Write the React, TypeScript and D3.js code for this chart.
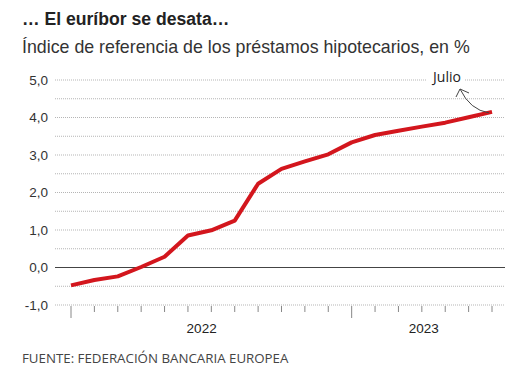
import * as d3 from 'd3';

const months = [
  '2022-01', '2022-02', '2022-03', '2022-04', '2022-05', '2022-06',
  '2022-07', '2022-08', '2022-09', '2022-10', '2022-11', '2022-12',
  '2023-01', '2023-02', '2023-03', '2023-04', '2023-05', '2023-06', '2023-07',
];
const euribor = [
  -0.477, -0.335, -0.237, 0.013, 0.287, 0.852,
  0.992, 1.249, 2.233, 2.629, 2.828, 3.018,
  3.337, 3.534, 3.647, 3.757, 3.862, 4.007, 4.149,
];
const yTicks = [-1, 0, 1, 2, 3, 4, 5];
const years = ['2022', '2023'];

const W = 520;
const H = 387;
const RED = '#d3161d';

export default function App() {
  const x = d3.scalePoint<string>().domain(months).range([71, 492]);
  const y = d3.scaleLinear().domain([-1, 5]).range([305, 80]);
  const gridLeft = 55;
  const gridRight = 505;

  const gridVals = d3.range(-1, 5.01, 0.5);
  const fmt = (v: number) => d3.format('.1f')(v).replace('.', ',').replace('−', '-');

  const line = d3
    .line<number>()
    .x((_, i) => x(months[i]) as number)
    .y(d => y(d));

  const last = months.length - 1;
  const endX = x(months[last]) as number;
  const endY = y(euribor[last]);
  const tipX = endX - 32;
  const tipY = 89;

  return (
    <svg
      width={W}
      height={H}
      style={{ position: 'absolute', left: 0, top: 0, background: '#fff' }}
      fontFamily="'Liberation Sans', Arial, sans-serif"
    >
      <text x={22} y={25} fontSize={17.6} fontWeight={700} fill="#222">
        … El euríbor se desata…
      </text>
      <text x={22} y={53} fontSize={17.8} fill="#333">
        Índice de referencia de los préstamos hipotecarios, en %
      </text>

      {/* gridlines */}
      {gridVals.map(v =>
        Math.abs(v) < 1e-9 ? null : (
          <line
            key={v}
            x1={gridLeft}
            x2={gridRight}
            y1={y(v)}
            y2={y(v)}
            stroke="#b5b5b5"
            strokeWidth={1}
            strokeDasharray="1,1"
          />
        )
      )}
      <line x1={gridLeft} x2={gridRight} y1={y(0)} y2={y(0)} stroke="#444" strokeWidth={1} />

      {/* y labels */}
      {yTicks.map(v => (
        <text
          key={v}
          x={48}
          y={y(v)}
          dy="0.35em"
          textAnchor="end"
          fontSize={13.5}
          fill="#333"
        >
          {fmt(v)}
        </text>
      ))}

      {/* month ticks */}
      {months.map(m => (
        <line
          key={m}
          x1={x(m)}
          x2={x(m)}
          y1={306}
          y2={m.endsWith('-01') ? 318 : 312}
          stroke="#888"
          strokeWidth={1}
        />
      ))}
      {years.map(yr => {
        const ms = months.filter(m => m.startsWith(yr));
        const cx = ((x(ms[0]) as number) + (x(ms[ms.length - 1]) as number)) / 2;
        return (
          <text key={yr} x={cx + 2} y={333} textAnchor="middle" fontSize={13.5} fill="#222">
            {yr}
          </text>
        );
      })}

      {/* line */}
      <path d={line(euribor) || ''} fill="none" stroke={RED} strokeWidth={4} strokeLinejoin="round" />

      {/* annotation */}
      <rect x={426} y={70} width={39} height={18} fill="#fff" />
      <text x={447} y={82} textAnchor="middle" fontSize={14} fill="#222" fontFamily="'Open Sans', sans-serif">
        Julio
      </text>
      <path
        d={`M${endX - 3},${endY + 1} Q${tipX + 10},${endY - 2} ${tipX},${tipY}`}
        fill="none"
        stroke="#444"
        strokeWidth={1}
      />
      <path
        d={`M${tipX - 4},${tipY + 8} L${tipX},${tipY} L${tipX + 9},${tipY + 4}`}
        fill="none"
        stroke="#444"
        strokeWidth={1}
      />

      <text x={22} y={363} fontSize={13.3} fill="#444" fontFamily="'Open Sans', sans-serif">
        FUENTE: FEDERACIÓN BANCARIA EUROPEA
      </text>
    </svg>
  );
}
